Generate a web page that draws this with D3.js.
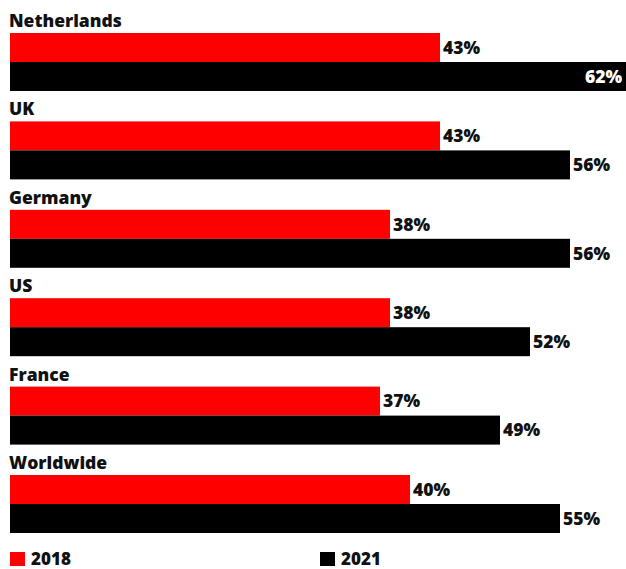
<!DOCTYPE html>
<html>
<head>
<meta charset="utf-8">
<script src="https://cdn.jsdelivr.net/npm/d3@7"></script>
<style>
  html, body { margin: 0; padding: 0; background: #fff; }
  svg { display: block; font-family: "Open Sans", "Lato", sans-serif; }
</style>
</head>
<body>
<svg id="chart" width="626" height="569"></svg>
<script>
const categories = ["Netherlands", "UK", "Germany", "US", "France", "Worldwide"];
const seriesNames = ["2018", "2021"];
const values2018 = [43, 43, 38, 38, 37, 40];
const values2021 = [62, 56, 56, 52, 49, 55];
const colors = ["#ff0000", "#000000"];

const svg = d3.select("#chart");
const W = 626;

const x = d3.scaleLinear().domain([0, 62]).range([10, 630]);
const y = d3.scaleBand().domain(categories).range([33, 533]).paddingInner(0.344).paddingOuter(0);
const ySeries = d3.scaleBand().domain(seriesNames).range([0, y.bandwidth()]);

const rows = categories.map((c, i) => ({
  category: c,
  bars: [
    { series: "2018", value: values2018[i] },
    { series: "2021", value: values2021[i] }
  ]
}));

const color = d3.scaleOrdinal().domain(seriesNames).range(colors);

const g = svg.selectAll("g.group").data(rows).join("g")
  .attr("class", "group")
  .attr("transform", d => `translate(0,${y(d.category)})`);

g.append("text")
  .attr("x", 9)
  .attr("y", -6)
  .attr("font-size", 17.5)
  .attr("font-weight", 800)
  .attr("fill", "#111")
  .text(d => d.category);

g.selectAll("rect").data(d => d.bars).join("rect")
  .attr("x", x(0))
  .attr("y", d => ySeries(d.series))
  .attr("width", d => x(d.value) - x(0))
  .attr("height", ySeries.bandwidth())
  .attr("fill", d => color(d.series));

g.selectAll("text.val").data(d => d.bars).join("text")
  .attr("class", "val")
  .each(function(d) {
    const end = x(d.value);
    const inside = end + 40 > W;
    d3.select(this)
      .attr("x", inside ? W - 4 : end + 3)
      .attr("text-anchor", inside ? "end" : "start")
      .attr("fill", inside ? "#fff" : "#111");
  })
  .attr("y", d => ySeries(d.series) + ySeries.bandwidth() / 2)
  .attr("dy", "0.36em")
  .attr("font-size", 17.5)
  .attr("font-weight", 800)
  .text(d => d.value + "%");

// legend
const legend = svg.append("g");
const legendX = [10, 320];
seriesNames.forEach((s, i) => {
  const lg = legend.append("g").attr("transform", `translate(${legendX[i]},552)`);
  lg.append("rect").attr("width", 15).attr("height", 14).attr("fill", color(s));
  lg.append("text").attr("x", 21).attr("y", 12.5)
    .attr("font-size", 17).attr("font-weight", 800).attr("fill", "#111").text(s);
});
</script>
</body>
</html>
